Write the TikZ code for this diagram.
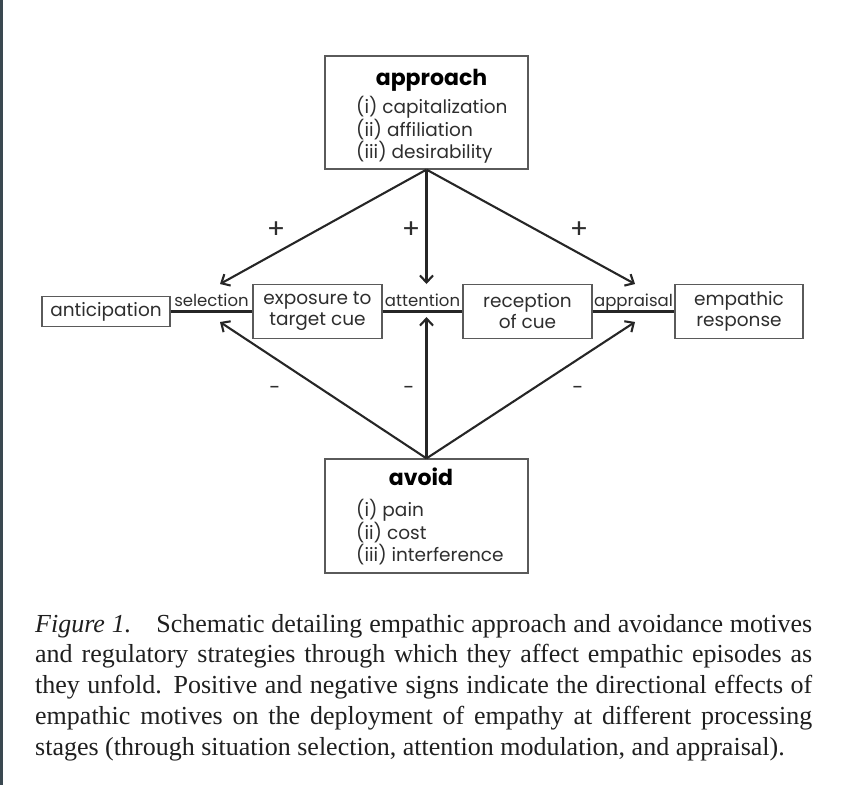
\documentclass[tikz,border=0pt]{standalone}
\usepackage{fontspec}
\setmainfont{Liberation Serif}
\newfontfamily\gothic{Poppins}
\usetikzlibrary{arrows.meta}
\definecolor{boxgray}{HTML}{5A5A5A}
\definecolor{textgray}{HTML}{2E2E2E}
\definecolor{edgebar}{HTML}{3A4850}

\begin{document}
\begin{tikzpicture}
  [x=1pt,y=-1pt,
   stage/.style={draw=boxgray, line width=1.2pt, text=textgray, align=center, inner sep=0pt,
     font=\gothic\fontsize{18.5}{21}\selectfont},
   motive/.style={draw=boxgray, line width=1.2pt, minimum width=203pt, minimum height=113pt, inner sep=0pt},
   title/.style={inner sep=0pt, anchor=base, font=\gothic\bfseries\fontsize{22}{26}\selectfont},
   items/.style={inner sep=0pt, anchor=base west, align=left, text=textgray,
     font=\gothic\fontsize{18.5}{21.5}\selectfont},
   route/.style={inner sep=0pt, anchor=base, text=textgray, font=\gothic\fontsize{16.5}{20}\selectfont},
   sign/.style={inner sep=0pt, text=textgray, font=\gothic\fontsize{20}{20}\selectfont},
   link/.style={draw=black!85, line width=2.2pt},
   push/.style={draw=black!85, line width=2.1pt, -{Straight Barb[length=7pt,width=13pt]}}]
  \useasboundingbox (0,0) rectangle (859,785);
  \fill[edgebar] (0,0) rectangle (3,785);

  % motives
  \node[motive] (approach) at (426.5,112.5) {};
  \node[title] (approachT) at (431.5,85) {approach};
  \node[items] (approachL) at (356,158) {(i) capitalization\\(ii) affiliation\\(iii) desirability};
  \node[motive, minimum height=114pt] (avoid) at (426.5,516) {};
  \node[title] (avoidT) at (421,485) {avoid};
  \node[items] (avoidL) at (356,561) {(i) pain\\(ii) cost\\(iii) interference};

  % processing stages
  \node[stage, minimum width=128pt, minimum height=30pt] (antic) at (106,311.5) {anticipation};
  \node[stage, minimum width=129pt, minimum height=54pt] (expo) at (317.5,311.5) {exposure to\\target cue};
  \node[stage, minimum width=129pt, minimum height=54pt] (recep) at (527.5,311.5) {reception\\of cue};
  \node[stage, minimum width=128pt, minimum height=54pt] (empath) at (739,311.5) {empathic\\response};

  \foreach \from/\to in {antic/expo,expo/recep,recep/empath}
    \draw[link] (\from) -- (\to);

  \node[route] (sel) at (211.5,306) {selection};
  \node[route] (att) at (422.5,306) {attention};
  \node[route] (app) at (633.5,306) {appraisal};

  % arrow ends
  \coordinate (selIn) at (220,284);
  \coordinate (attIn) at (426.5,284);
  \coordinate (appIn) at (635,284);
  \coordinate (selOut) at (220,322);
  \coordinate (attOut) at (426.5,317);
  \coordinate (appOut) at (635,322);

  \foreach \to in {selIn,attIn,appIn}
    \draw[push] (approach.south) -- (\to);
  \foreach \to in {selOut,attOut,appOut}
    \draw[push] (avoid.north) -- (\to);

  \node[sign, font=\gothic\fontsize{27}{27}\selectfont] (plusSel) at (276,230) {+};
  \node[sign, font=\gothic\fontsize{27}{27}\selectfont] (plusAtt) at (411,230) {+};
  \node[sign, font=\gothic\fontsize{27}{27}\selectfont] (plusApp) at (579,230) {+};
  \node[sign] (minusSel) at (275,390) {-};
  \node[sign] (minusAtt) at (409,390) {-};
  \node[sign] (minusApp) at (578,390) {-};

  % caption
  \node[anchor=base west, inner sep=0pt, text width=777pt, align=justify, text=black!88,
    font=\fontsize{26}{30.75}\selectfont] (note) at (35,632)
    {\textit{Figure 1.}\hspace{0.6em} Schematic detailing empathic approach and avoidance motives\linebreak
     and regulatory strategies through which they affect empathic episodes as\linebreak
     they unfold. Positive and negative signs indicate the directional effects of\linebreak
     empathic motives on the deployment of empathy at different processing\linebreak
     stages (through situation selection, attention modulation, and appraisal).};
\end{tikzpicture}
\end{document}
